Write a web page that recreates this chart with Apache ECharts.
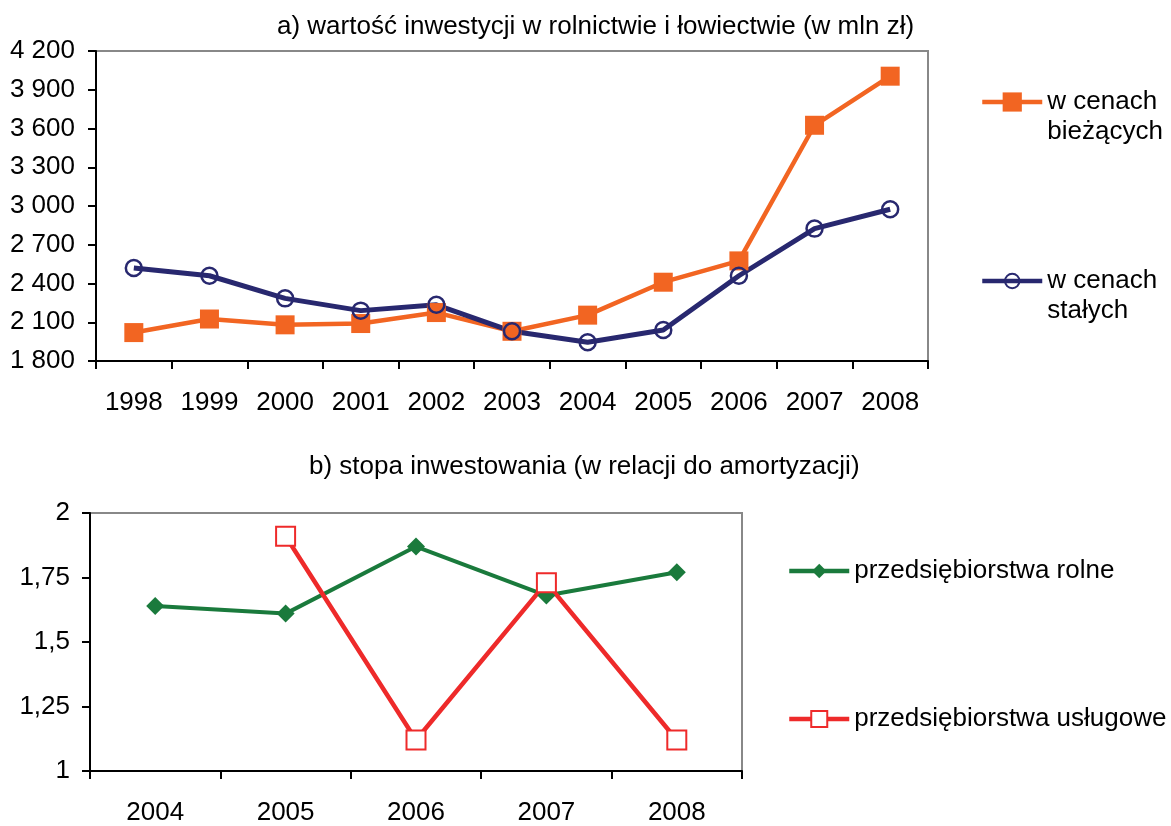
<!DOCTYPE html>
<html>
<head>
<meta charset="utf-8">
<script src="https://cdn.jsdelivr.net/npm/echarts@6/dist/echarts.min.js"></script>
<style>
  html, body { margin: 0; padding: 0; background: #fff; }
  #main { width: 1171px; height: 826px; }
</style>
</head>
<body>
<div id="main"></div>
<script>
// dane – wykres a
var lata = ['1998', '1999', '2000', '2001', '2002', '2003', '2004', '2005', '2006', '2007', '2008'];
var cenyBiezace = [2020, 2125, 2080, 2090, 2175, 2030, 2155, 2410, 2575, 3625, 4005];
var cenyStale = [2520, 2460, 2285, 2190, 2235, 2030, 1945, 2040, 2460, 2825, 2975];

// dane – wykres b
var lataB = ['2004', '2005', '2006', '2007', '2008'];
var rolne = [1.64, 1.61, 1.87, 1.68, 1.77];
var uslugowe = [null, 1.91, 1.12, 1.73, 1.12];

var font = 'Liberation Sans, Arial, sans-serif';
var fs = 26;
var myChart = echarts.init(document.getElementById('main'));

function osX(idx, dane) {
    return {
        type: 'category',
        gridIndex: idx,
        data: dane,
        boundaryGap: true,
        axisLine: { lineStyle: { color: '#000', width: 2 } },
        axisTick: { show: true, length: 8, lineStyle: { color: '#000', width: 2 } },
        axisLabel: { color: '#000', fontSize: fs, fontFamily: font, margin: 29 },
        splitLine: { show: false }
    };
}

// dwie linie: pusta linia na górze, żeby ikona stała przy pierwszym wierszu
function legenda(nazwa, left, top, h, dwieLinie) {
    return {
        data: [nazwa],
        left: left, top: top, padding: 0,
        itemWidth: 60, itemHeight: h, itemGap: 0,
        lineStyle: { width: 4.5 },
        formatter: function (n) { return dwieLinie ? '\n' + n : n; },
        textStyle: { fontSize: fs, color: '#000', fontFamily: font, lineHeight: 30 }
    };
}

var option = {
    backgroundColor: '#fff',
    animation: false,
    title: [{
        text: 'a) wartość inwestycji w rolnictwie i łowiectwie (w mln zł)',
        left: 277, top: 14, padding: 0,
        textStyle: { fontSize: fs, fontWeight: 'normal', color: '#000', fontFamily: font }
    }, {
        text: 'b) stopa inwestowania (w relacji do amortyzacji)',
        left: 309, top: 454, padding: 0,
        textStyle: { fontSize: fs, fontWeight: 'normal', color: '#000', fontFamily: font }
    }],
    grid: [
        { left: 96, right: 243, top: 51, height: 310, show: true, borderColor: '#888', borderWidth: 2 },
        { left: 90, right: 429, top: 513, height: 261, show: true, borderColor: '#888', borderWidth: 2 }
    ],
    legend: [
        legenda('w cenach\nbieżących', 980, 57, 24, true),
        legenda('w cenach\nstałych', 980, 236, 18, true),
        legenda('przedsiębiorstwa rolne', 787, 556, 18, false),
        legenda('przedsiębiorstwa usługowe', 787, 704, 20, false)
    ],
    xAxis: [osX(0, lata), osX(1, lataB)],
    yAxis: [{
        type: 'value',
        gridIndex: 0,
        min: 1800, max: 4200, interval: 300,
        axisLine: { show: true, lineStyle: { color: '#000', width: 2 } },
        axisTick: { show: true, length: 8, lineStyle: { color: '#000', width: 2 } },
        axisLabel: {
            color: '#000', fontSize: fs, fontFamily: font, margin: 21,
            formatter: function (v) { return String(v).replace(/\B(?=(\d{3})+(?!\d))/g, ' '); }
        },
        splitLine: { show: false }
    }, {
        type: 'value',
        gridIndex: 1,
        min: 1, max: 2, interval: 0.25,
        axisLine: { show: true, lineStyle: { color: '#000', width: 2 } },
        axisTick: { show: true, length: 8, lineStyle: { color: '#000', width: 2 } },
        axisLabel: {
            color: '#000', fontSize: fs, fontFamily: font, margin: 20,
            formatter: function (v) { return String(v).replace('.', ','); }
        },
        splitLine: { show: false }
    }],
    series: [{
        name: 'w cenach\nbieżących',
        type: 'line',
        xAxisIndex: 0, yAxisIndex: 0,
        data: cenyBiezace,
        symbol: 'rect', symbolSize: 19,
        lineStyle: { color: '#F26522', width: 4.5 },
        itemStyle: { color: '#F26522' }
    }, {
        name: 'w cenach\nstałych',
        type: 'line',
        xAxisIndex: 0, yAxisIndex: 0,
        data: cenyStale,
        symbol: 'circle', symbolSize: 16,
        lineStyle: { color: '#28286F', width: 5 },
        itemStyle: { color: 'rgba(255,255,255,0)', borderColor: '#28286F', borderWidth: 2.5 }
    }, {
        name: 'przedsiębiorstwa rolne',
        type: 'line',
        xAxisIndex: 1, yAxisIndex: 1,
        data: rolne,
        symbol: 'diamond', symbolSize: 18,
        lineStyle: { color: '#1A7A3C', width: 4 },
        itemStyle: { color: '#1A7A3C' }
    }, {
        name: 'przedsiębiorstwa usługowe',
        type: 'line',
        xAxisIndex: 1, yAxisIndex: 1,
        data: uslugowe,
        symbol: 'rect', symbolSize: 19,
        lineStyle: { color: '#EE2A2A', width: 4.5 },
        itemStyle: { color: '#fff', borderColor: '#EE2A2A', borderWidth: 2 }
    }]
};

myChart.setOption(option);
window.addEventListener('resize', function () {
    myChart.resize();
});
</script>
</body>
</html>
